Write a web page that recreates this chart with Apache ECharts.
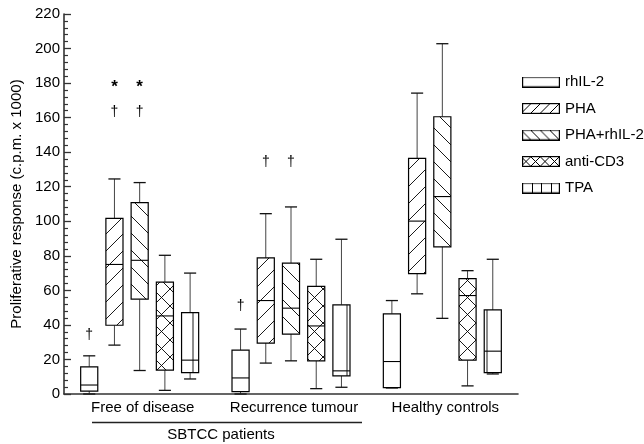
<!DOCTYPE html>
<html><head><meta charset="utf-8">
<script src="https://cdn.jsdelivr.net/npm/echarts@6/dist/echarts.min.js"></script>
<style>html,body{margin:0;padding:0;background:#fff}#c{width:644px;height:444px}</style>
</head><body><div id="c"></div>
<script>
const categories = ['Free of disease', 'Recurrence tumour', 'Healthy controls'];
const seriesNames = ['rhIL-2', 'PHA', 'PHA+rhIL-2', 'anti-CD3', 'TPA'];
// each entry: [min, Q1, median, Q3, max] for the three categories
const rhIL2    = [[0, 1.7, 5.2, 15.7, 22.1], [0, 1.4, 9.3, 25.4, 37.6], [3.5, 3.7, 18.8, 46.4, 54.1]];
const pha      = [[28.3, 39.8, 75, 101.7, 124.5], [17.9, 29.5, 54.1, 78.8, 104.4], [58, 69.7, 100.1, 136.4, 174.2]];
const phaRhIL2 = [[13.6, 54.9, 77.4, 110.8, 122.4], [19.2, 34.7, 49.7, 75.8, 108.3], [43.8, 85.2, 114.3, 160.5, 202.8]];
const antiCD3  = [[2.1, 13.8, 45.2, 64.8, 80.3], [3.1, 19.2, 39.4, 62.3, 78], [4.7, 19.6, 57, 66.8, 71.4]];
const tpa      = [[8.7, 12.4, 19.6, 47.1, 70], [3.9, 10.5, 13.4, 51.6, 89.6], [11.6, 12.4, 24.8, 48.7, 78]];
const yMin = 0, yMax = 220, yInterval = 20;
// significance markers: [categoryIndex, seriesIndex, value, symbol]
const markers = [
  [0, 0, 34, '\u2020'], [0, 1, 180, '*'], [0, 1, 163, '\u2020'], [0, 2, 180, '*'], [0, 2, 163, '\u2020'],
  [1, 0, 51, '\u2020'], [1, 1, 134, '\u2020'], [1, 2, 134, '\u2020']
];

const seriesValues = [rhIL2, pha, phaRhIL2, antiCD3, tpa];
const hatchTypes = ['none', 'fwd', 'back', 'cross', 'vert'];
const FONT = 'Liberation Sans, Arial, Helvetica, sans-serif';

function legendIcon(type) {
  const W = 38, H = 11;
  const c = document.createElement('canvas'); c.width = W; c.height = H;
  const x = c.getContext('2d');
  x.fillStyle = '#fff'; x.fillRect(0, 0, W, H);
  x.strokeStyle = '#000'; x.lineWidth = 1;
  x.save(); x.beginPath(); x.rect(1, 1, W - 2, H - 2); x.clip();
  x.beginPath();
  const s = 9.5;
  if (type === 'fwd' || type === 'cross') for (let p = -H; p < W + H; p += s) { x.moveTo(p, H); x.lineTo(p + H, 0); }
  if (type === 'back' || type === 'cross') for (let p = -H; p < W + H; p += s) { x.moveTo(p, 0); x.lineTo(p + H, H); }
  if (type === 'vert') for (let p = s; p < W - 1; p += s) { const q = Math.round(p) + 0.5; x.moveTo(q, 0); x.lineTo(q, H); }
  x.stroke(); x.restore();
  x.lineWidth = 1.2; x.strokeRect(0.6, 0.6, W - 1.2, H - 1.2);
  return c.toDataURL();
}

function hatchLines(type, x0, x1, yT, yB) {
  const out = [];
  const st = { stroke: '#000', lineWidth: 0.9 };
  const d = 17;
  if (type === 'fwd' || type === 'cross') {
    let c = Math.ceil((x0 + yT) / d) * d;
    for (; c < x1 + yB; c += d) {
      const xa = Math.max(x0, c - yB), xb = Math.min(x1, c - yT);
      if (xb - xa > 0.5) out.push({ type: 'line', shape: { x1: xa, y1: c - xa, x2: xb, y2: c - xb }, style: st });
    }
  }
  if (type === 'back' || type === 'cross') {
    let c = Math.ceil((yT - x1) / d) * d;
    for (; c < yB - x0; c += d) {
      const xa = Math.max(x0, yT - c), xb = Math.min(x1, yB - c);
      if (xb - xa > 0.5) out.push({ type: 'line', shape: { x1: xa, y1: xa + c, x2: xb, y2: xb + c }, style: st });
    }
  }
  if (type === 'vert') {
    const dv = 14, ph = 11;
    let xv = Math.ceil((x0 + 2 - ph) / dv) * dv + ph;
    for (; xv < x1 - 1.5; xv += dv) out.push({ type: 'line', shape: { x1: xv, y1: yT, x2: xv, y2: yB }, style: st });
  }
  return out;
}

function makeRender(k) {
  return function (params, api) {
    const g = api.value(0);
    const band = api.size([1, 0])[0];
    const cx = api.coord([g, 0])[0] + (k - 2) * band / 6;
    const w = band * 0.113, cap = band * 0.08;
    const yy = i => api.coord([g, api.value(i)])[1];
    const yLo = yy(1), yQ1 = yy(2), yMed = yy(3), yQ3 = yy(4), yHi = yy(5);
    const x0 = cx - w / 2, x1 = cx + w / 2;
    const wl = { stroke: '#444', lineWidth: 1 };
    const cl = { stroke: '#111', lineWidth: 1.3 };
    const ch = [
      { type: 'line', shape: { x1: cx, y1: yQ3, x2: cx, y2: yHi }, style: wl },
      { type: 'line', shape: { x1: cx, y1: yQ1, x2: cx, y2: yLo }, style: wl },
      { type: 'line', shape: { x1: cx - cap / 2, y1: yHi, x2: cx + cap / 2, y2: yHi }, style: cl },
      { type: 'line', shape: { x1: cx - cap / 2, y1: yLo, x2: cx + cap / 2, y2: yLo }, style: cl },
      { type: 'rect', shape: { x: x0, y: yQ3, width: w, height: yQ1 - yQ3 }, style: { fill: '#fff' } }
    ];
    hatchLines(hatchTypes[k], x0, x1, yQ3, yQ1).forEach(e => ch.push(e));
    ch.push({ type: 'rect', shape: { x: x0, y: yQ3, width: w, height: yQ1 - yQ3 }, style: { fill: 'none', stroke: '#000', lineWidth: 1.2 } });
    ch.push({ type: 'line', shape: { x1: x0, y1: yMed, x2: x1, y2: yMed }, style: { stroke: '#000', lineWidth: 1.1 } });
    return { type: 'group', children: ch };
  };
}

const series = seriesValues.map((vals, k) => ({
  name: seriesNames[k],
  type: 'custom',
  coordinateSystem: 'cartesian2d',
  clip: false,
  itemStyle: { color: '#fff', borderColor: '#000' },
  encode: { x: 0, y: [1, 2, 3, 4, 5] },
  data: vals.map((v, g) => [g].concat(v)),
  renderItem: makeRender(k),
  silent: true
}));

series.push({
  name: 'markers',
  type: 'custom',
  coordinateSystem: 'cartesian2d',
  clip: false,
  encode: { x: 0, y: 2 },
  data: markers.map(m => [m[0], m[1], m[2], m[3]]),
  renderItem: function (params, api) {
    const g = api.value(0), k = api.value(1), v = api.value(2);
    const sym = markers[params.dataIndex][3];
    const band = api.size([1, 0])[0];
    const cx = api.coord([g, 0])[0] + (k - 2) * band / 6;
    const cy = api.coord([g, v])[1];
    const isStar = sym === '*';
    return {
      type: 'text',
      x: cx, y: cy + (isStar ? 4 : 0),
      style: {
        text: sym, fill: '#000',
        font: (isStar ? 'bold 17px ' : '14px ') + FONT,
        align: 'center', verticalAlign: 'middle',
        textAlign: 'center', textVerticalAlign: 'middle'
      }
    };
  },
  silent: true
});

const chart = echarts.init(document.getElementById('c'), null, { renderer: 'canvas' });
chart.setOption({
  animation: false,
  backgroundColor: '#fff',
  textStyle: { fontFamily: FONT },
  grid: { left: 64, right: 126, top: 14, bottom: 50, containLabel: false },
  legend: {
    orient: 'vertical', left: 517, top: 69.5,
    itemWidth: 38, itemHeight: 11, itemGap: 11.5,
    textStyle: { fontSize: 15, color: '#000', fontFamily: FONT, lineHeight: 15 },
    data: seriesNames.map((n, i) => ({ name: n, icon: 'image://' + legendIcon(hatchTypes[i]) })),
    selectedMode: false
  },
  xAxis: {
    type: 'category', data: categories,
    axisLine: { lineStyle: { color: '#333', width: 1.6 } },
    axisTick: { show: false },
    axisLabel: { color: '#000', fontSize: 15, margin: 6, fontFamily: FONT, interval: 0, hideOverlap: false, padding: [0, 0, 0, 6] },
    splitLine: { show: false }
  },
  yAxis: {
    type: 'value', min: yMin, max: yMax, interval: yInterval,
    name: 'Proliferative response (c.p.m. x 1000)',
    nameLocation: 'middle', nameGap: 40,
    nameTextStyle: { color: '#000', fontSize: 15, fontFamily: FONT },
    axisLine: { show: true, lineStyle: { color: '#333', width: 1.6 } },
    axisTick: { show: true, inside: true, length: 7, lineStyle: { color: '#333', width: 1.3 } },
    minorTick: { show: true, splitNumber: 5, length: 4, lineStyle: { color: '#333', width: 1.2 } },
    axisLabel: { color: '#000', fontSize: 15, margin: 4, fontFamily: FONT },
    splitLine: { show: false }
  },
  graphic: [
    { type: 'line', shape: { x1: 92, y1: 422.5, x2: 362, y2: 422.5 }, style: { stroke: '#222', lineWidth: 1.6 } },
    { type: 'text', x: 221, y: 435, style: { text: 'SBTCC patients', font: '15px ' + FONT, fill: '#000', align: 'center', verticalAlign: 'middle', textAlign: 'center', textVerticalAlign: 'middle' } }
  ],
  series: series
});
</script>
</body></html>
